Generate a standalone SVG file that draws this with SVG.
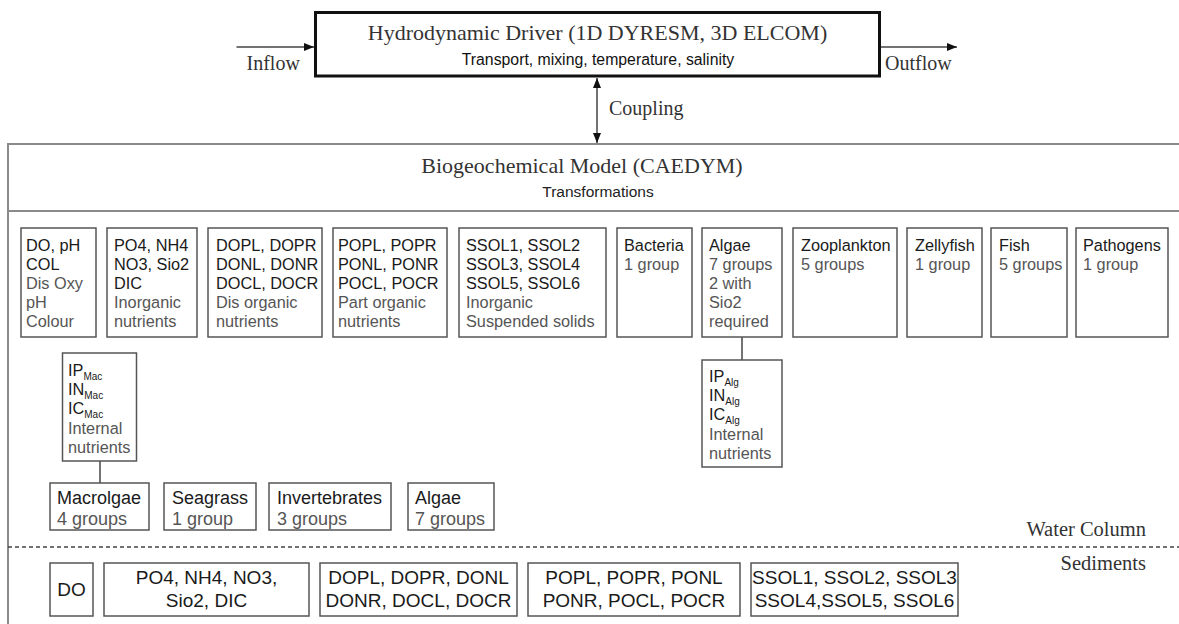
<svg xmlns="http://www.w3.org/2000/svg" width="1179" height="624" viewBox="0 0 1179 624">
<defs>
<marker id="ah" markerWidth="10" markerHeight="8" refX="10" refY="4" orient="auto-start-reverse" markerUnits="userSpaceOnUse"><path d="M0,0 L10,4 L0,8 z" fill="#111"/></marker>
<style>
.bx{fill:#fff;stroke:#555;stroke-width:1.5}
.serif{font-family:"Liberation Serif","Times New Roman",serif;fill:#333}
.t{font-family:"Liberation Sans",Arial,sans-serif;font-size:16.3px;fill:#1a1a1a}
.d{font-family:"Liberation Sans",Arial,sans-serif;font-size:16.3px;fill:#555}
.w{font-family:"Liberation Sans",Arial,sans-serif;font-size:18px;fill:#1a1a1a}
.wd{font-family:"Liberation Sans",Arial,sans-serif;font-size:18px;fill:#555}
.s{font-family:"Liberation Sans",Arial,sans-serif;font-size:19px;fill:#1a1a1a;text-anchor:middle}
.sub{font-size:10px}
.ln{stroke:#444;stroke-width:1.5;fill:none}
</style>
</defs>
<rect width="1179" height="624" fill="#fff"/>

<g id="hydro">
<rect x="315.5" y="12.5" width="564" height="63.5" fill="#fff" stroke="#111" stroke-width="3"/>
<text class="serif" x="597.5" y="40" font-size="22" text-anchor="middle">Hydrodynamic Driver (1D DYRESM, 3D ELCOM)</text>
<text x="598" y="65" font-family="Liberation Sans,Arial,sans-serif" font-size="15.8" fill="#111" text-anchor="middle">Transport, mixing, temperature, salinity</text>
</g>

<g id="labels">
<text class="serif" x="246.5" y="70" font-size="20">Inflow</text>
<text class="serif" x="885" y="70" font-size="20">Outflow</text>
<text class="serif" x="609" y="115" font-size="20">Coupling</text>
<text class="serif" x="1146" y="536" font-size="20.5" text-anchor="end">Water Column</text>
<text class="serif" x="1146" y="570" font-size="20.5" text-anchor="end">Sediments</text>
</g>

<g id="caedym">
<path d="M1181,144 H8 V626" fill="none" stroke="#8a8a8a" stroke-width="2"/>
<line x1="8" y1="211" x2="1181" y2="211" stroke="#8a8a8a" stroke-width="2"/>
<line x1="8" y1="547" x2="1181" y2="547" stroke="#444" stroke-width="1.3" stroke-dasharray="4,3"/>
<text class="serif" x="582" y="173" font-size="22" text-anchor="middle">Biogeochemical Model (CAEDYM)</text>
<text x="598" y="197" font-family="Liberation Sans,Arial,sans-serif" font-size="15.5" fill="#222" text-anchor="middle">Transformations</text>
</g>

<g id="connectors">
<line x1="236.5" y1="47" x2="314" y2="47" class="ln" stroke="#111" marker-end="url(#ah)"/>
<line x1="881" y1="47" x2="957" y2="47" class="ln" stroke="#111" marker-end="url(#ah)"/>
<line x1="597" y1="78" x2="597" y2="143" class="ln" stroke="#111" marker-start="url(#ah)" marker-end="url(#ah)"/>
<line x1="742" y1="337" x2="742" y2="360" class="ln"/>
<line x1="100" y1="461" x2="100" y2="483" class="ln"/>
</g>

<g id="n-do">
<rect class="bx" x="21" y="228" width="75" height="109"/>
<text class="t" x="26" y="251">DO, pH</text><text class="t" x="26" y="270">COL</text>
<text class="d" x="26" y="289">Dis Oxy</text><text class="d" x="26" y="308">pH</text><text class="d" x="26" y="327">Colour</text>
</g>
<g id="n-inorg">
<rect class="bx" x="107" y="228" width="90" height="109"/>
<text class="t" x="114" y="251">PO4, NH4</text><text class="t" x="114" y="270">NO3, Sio2</text><text class="t" x="114" y="289">DIC</text>
<text class="d" x="114" y="308">Inorganic</text><text class="d" x="114" y="327">nutrients</text>
</g>
<g id="n-dom">
<rect class="bx" x="208" y="228" width="114" height="109"/>
<text class="t" x="216" y="251">DOPL, DOPR</text><text class="t" x="216" y="270">DONL, DONR</text><text class="t" x="216" y="289">DOCL, DOCR</text>
<text class="d" x="216" y="308">Dis organic</text><text class="d" x="216" y="327">nutrients</text>
</g>
<g id="n-pom">
<rect class="bx" x="333" y="228" width="114" height="109"/>
<text class="t" x="338" y="251">POPL, POPR</text><text class="t" x="338" y="270">PONL, PONR</text><text class="t" x="338" y="289">POCL, POCR</text>
<text class="d" x="338" y="308">Part organic</text><text class="d" x="338" y="327">nutrients</text>
</g>
<g id="n-ssol">
<rect class="bx" x="459" y="228" width="147" height="109"/>
<text class="t" x="466" y="251">SSOL1, SSOL2</text><text class="t" x="466" y="270">SSOL3, SSOL4</text><text class="t" x="466" y="289">SSOL5, SSOL6</text>
<text class="d" x="466" y="308">Inorganic</text><text class="d" x="466" y="327">Suspended solids</text>
</g>
<g id="n-bacteria">
<rect class="bx" x="617" y="228" width="75" height="109"/>
<text class="t" x="624" y="251">Bacteria</text><text class="d" x="624" y="270">1 group</text>
</g>
<g id="n-algae">
<rect class="bx" x="702" y="228" width="80" height="109"/>
<text class="t" x="709" y="251">Algae</text><text class="d" x="709" y="270">7 groups</text><text class="d" x="709" y="289">2 with</text>
<text class="d" x="709" y="308">Sio2</text><text class="d" x="709" y="327">required</text>
</g>
<g id="n-zoo">
<rect class="bx" x="793" y="228" width="104" height="109"/>
<text class="t" x="801" y="251">Zooplankton</text><text class="d" x="801" y="270">5 groups</text>
</g>
<g id="n-zelly">
<rect class="bx" x="907" y="228" width="75" height="109"/>
<text class="t" x="915" y="251">Zellyfish</text><text class="d" x="915" y="270">1 group</text>
</g>
<g id="n-fish">
<rect class="bx" x="991" y="228" width="76" height="109"/>
<text class="t" x="999" y="251">Fish</text><text class="d" x="999" y="270">5 groups</text>
</g>
<g id="n-path">
<rect class="bx" x="1076" y="228" width="92" height="109"/>
<text class="t" x="1083" y="251">Pathogens</text><text class="d" x="1083" y="270">1 group</text>
</g>

<g id="n-macint">
<rect class="bx" x="62.5" y="353" width="74" height="108"/>
<text class="t" x="68" y="376">IP<tspan class="sub" dy="4">Mac</tspan></text>
<text class="t" x="68" y="395">IN<tspan class="sub" dy="4">Mac</tspan></text>
<text class="t" x="68" y="414">IC<tspan class="sub" dy="4">Mac</tspan></text>
<text class="d" x="68" y="434">Internal</text><text class="d" x="68" y="453">nutrients</text>
</g>
<g id="n-algint">
<rect class="bx" x="702" y="360" width="80" height="107"/>
<text class="t" x="709" y="382">IP<tspan class="sub" dy="4">Alg</tspan></text>
<text class="t" x="709" y="401">IN<tspan class="sub" dy="4">Alg</tspan></text>
<text class="t" x="709" y="420">IC<tspan class="sub" dy="4">Alg</tspan></text>
<text class="d" x="709" y="440">Internal</text><text class="d" x="709" y="459">nutrients</text>
</g>

<g id="n-macro">
<rect class="bx" x="50" y="483" width="99" height="47"/>
<text class="w" x="57" y="504">Macrolgae</text><text class="wd" x="57" y="525">4 groups</text>
</g>
<g id="n-seagrass">
<rect class="bx" x="164" y="483" width="92" height="47"/>
<text class="w" x="172" y="504">Seagrass</text><text class="wd" x="172" y="525">1 group</text>
</g>
<g id="n-invert">
<rect class="bx" x="269" y="483" width="122" height="47"/>
<text class="w" x="277" y="504">Invertebrates</text><text class="wd" x="277" y="525">3 groups</text>
</g>
<g id="n-algae2">
<rect class="bx" x="408" y="483" width="86" height="47"/>
<text class="w" x="415" y="504">Algae</text><text class="wd" x="415" y="525">7 groups</text>
</g>

<g id="s-do">
<rect class="bx" x="50" y="563" width="43" height="53"/>
<text class="s" x="71.5" y="596">DO</text>
</g>
<g id="s-inorg">
<rect class="bx" x="104" y="563" width="205" height="53"/>
<text class="s" x="206.5" y="584">PO4, NH4, NO3,</text><text class="s" x="206.5" y="607">Sio2, DIC</text>
</g>
<g id="s-dom">
<rect class="bx" x="320" y="563" width="197" height="53"/>
<text class="s" x="418.5" y="584">DOPL, DOPR, DONL</text><text class="s" x="418.5" y="607">DONR, DOCL, DOCR</text>
</g>
<g id="s-pom">
<rect class="bx" x="528" y="563" width="212" height="53"/>
<text class="s" x="634" y="584">POPL, POPR, PONL</text><text class="s" x="634" y="607">PONR, POCL, POCR</text>
</g>
<g id="s-ssol">
<rect class="bx" x="751" y="563" width="207" height="53"/>
<text class="s" x="854.5" y="584">SSOL1, SSOL2, SSOL3</text><text class="s" x="854.5" y="607">SSOL4,SSOL5, SSOL6</text>
</g>
</svg>
